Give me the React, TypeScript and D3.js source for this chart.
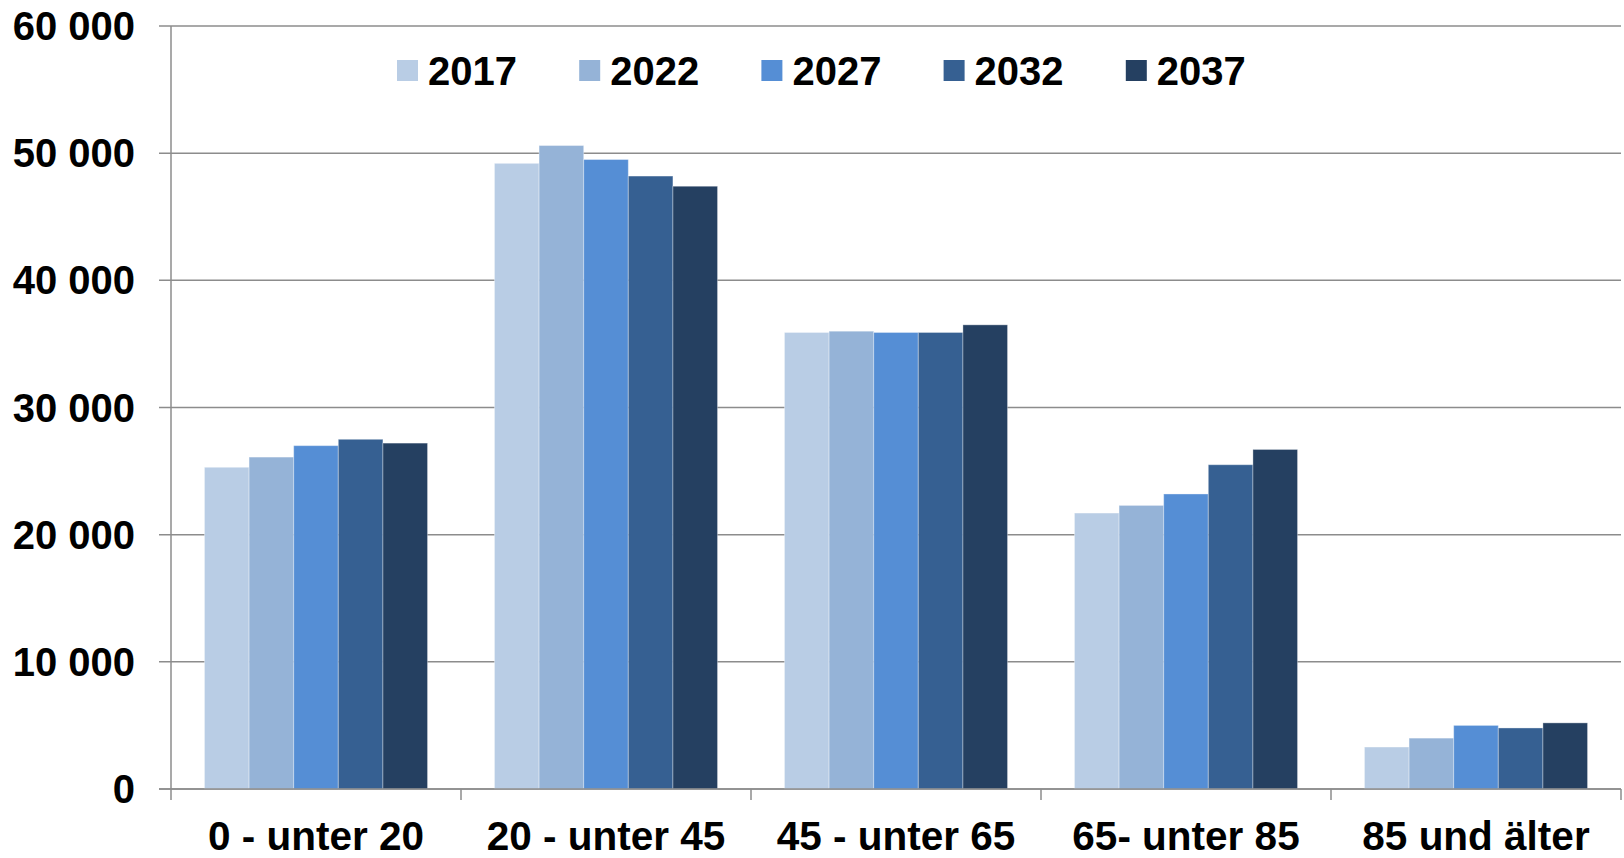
import React from "react";
import * as d3 from "d3";

const categories = ["0 - unter 20", "20 - unter 45", "45 - unter 65", "65- unter 85", "85 und älter"];
const years = ["2017", "2022", "2027", "2032", "2037"];
const values2017 = [25300, 49200, 35900, 21700, 3300];
const values2022 = [26100, 50600, 36000, 22300, 4000];
const values2027 = [27000, 49500, 35900, 23200, 5000];
const values2032 = [27500, 48200, 35900, 25500, 4800];
const values2037 = [27200, 47400, 36500, 26700, 5200];
const seriesValues = [values2017, values2022, values2027, values2032, values2037];
const yTicks = [0, 10000, 20000, 30000, 40000, 50000, 60000];
const colors = ["#B9CDE5", "#95B3D7", "#558ED5", "#366092", "#254061"];

const W = 1624;
const H = 858;
const left = 171;
const right = 1621;
const top = 26;
const bottom = 789;

export default function App() {
  const x0 = d3.scaleBand<string>().domain(categories).range([left, right]).paddingInner(0).paddingOuter(0);
  const x1 = d3.scaleBand<string>().domain(years).range([0, x0.bandwidth()]).paddingInner(0).paddingOuter(0.75);
  const y = d3.scaleLinear().domain([0, 60000]).range([bottom, top]);
  const fmt = d3.formatLocale({ decimal: ",", thousands: " ", grouping: [3], currency: ["", "€"] }).format(",d");
  const font = "'Liberation Sans', Arial, sans-serif";
  const gridColor = "#8c8c8c";
  const catTicks = [...categories.map((c) => x0(c) as number), right];

  return (
    <svg width={W} height={H} style={{ position: "absolute", left: 0, top: 0, background: "#fff" }} fontFamily={font}>
      {yTicks.map((t) => (
        <g key={t}>
          <line x1={left - 12} x2={right} y1={y(t)} y2={y(t)} stroke={gridColor} strokeWidth={1.5} />
          <text x={135} y={y(t) + 14} textAnchor="end" fontSize={40} fontWeight="bold" fill="#000">
            {fmt(t)}
          </text>
        </g>
      ))}
      {categories.map((c, ci) => (
        <g key={c}>
          {years.map((yr, si) => {
            const v = seriesValues[si][ci];
            return (
              <rect
                key={yr}
                x={(x0(c) as number) + (x1(yr) as number)}
                y={y(v)}
                width={x1.bandwidth()}
                height={y(0) - y(v)}
                fill={colors[si]}
                stroke="rgba(255,255,255,0.35)"
                strokeWidth={1}
              />
            );
          })}
          <text
            x={(x0(c) as number) + x0.bandwidth() / 2}
            y={850}
            textAnchor="middle"
            fontSize={40.5}
            fontWeight="bold"
            fill="#000"
          >
            {c}
          </text>
        </g>
      ))}
      <line x1={left} x2={left} y1={top} y2={bottom} stroke={gridColor} strokeWidth={1.5} />
      <line x1={left - 12} x2={right} y1={bottom} y2={bottom} stroke={gridColor} strokeWidth={1.5} />
      {catTicks.map((t, i) => (
        <line key={i} x1={t} x2={t} y1={bottom} y2={bottom + 11} stroke={gridColor} strokeWidth={1.5} />
      ))}
      {years.map((yr, i) => (
        <g key={yr} transform={`translate(${397 + i * 182.2},60)`}>
          <rect x={0} y={0} width={21} height={21} fill={colors[i]} />
          <text x={31} y={24.5} fontSize={40} fontWeight="bold" fill="#000">
            {yr}
          </text>
        </g>
      ))}
    </svg>
  );
}
